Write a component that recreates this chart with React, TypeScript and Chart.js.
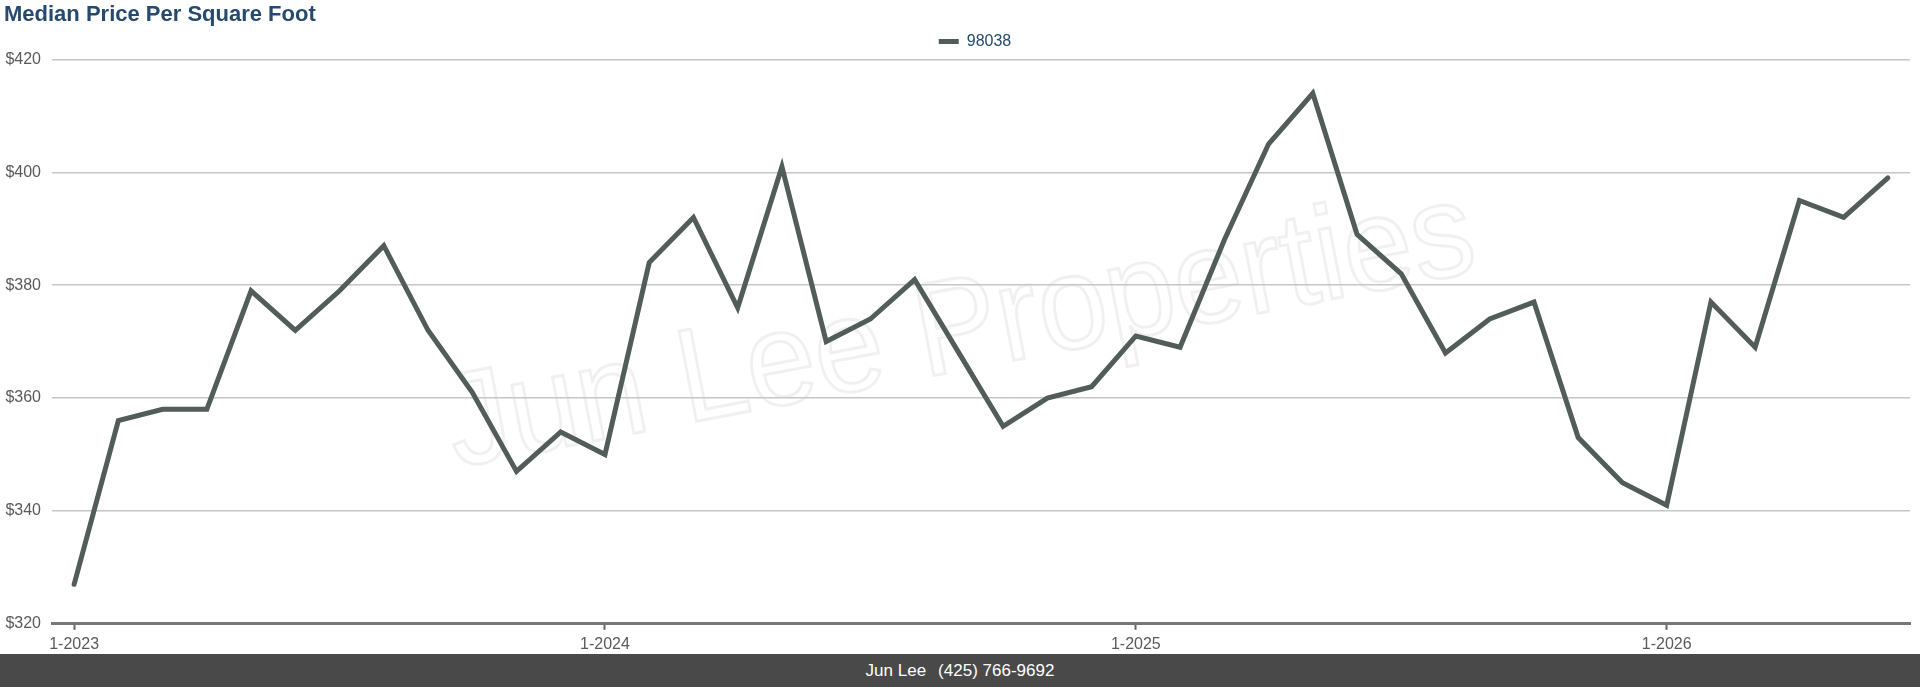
import React, { useEffect, useRef } from 'react';
import { Chart, registerables } from 'chart.js';

Chart.register(...registerables);

const chartTitle = 'Median Price Per Square Foot';
const seriesLabel = '98038';
const footerName = 'Jun Lee';
const footerPhone = '(425) 766-9692';
const watermarkText = 'Jun Lee Properties';

const months = [
  '1-2023', '2-2023', '3-2023', '4-2023', '5-2023', '6-2023', '7-2023', '8-2023', '9-2023', '10-2023', '11-2023', '12-2023',
  '1-2024', '2-2024', '3-2024', '4-2024', '5-2024', '6-2024', '7-2024', '8-2024', '9-2024', '10-2024', '11-2024', '12-2024',
  '1-2025', '2-2025', '3-2025', '4-2025', '5-2025', '6-2025', '7-2025', '8-2025', '9-2025', '10-2025', '11-2025', '12-2025',
  '1-2026', '2-2026', '3-2026', '4-2026', '5-2026', '6-2026',
];

const prices = [
  327, 356, 358, 358, 379, 372, 379, 387, 372, 361, 347, 354,
  350, 384, 392, 376, 401, 370, 374, 381, 368, 355, 360, 362,
  371, 369, 388, 405, 414, 389, 382, 368, 374, 377, 353, 345,
  341, 377, 369, 395, 392, 399,
];

const xTickLabels = ['1-2023', '1-2024', '1-2025', '1-2026'];
const yMin = 320;
const yMax = 420;
const yStep = 20;

const FONT = '"Liberation Sans", Arial, Helvetica, sans-serif';
const LINE_COLOR = '#525c59';
const TITLE_COLOR = '#254a6e';
const TICK_COLOR = '#5a5a5a';

const watermarkPlugin = {
  id: 'watermark',
  beforeDraw(chart: any) {
    const { ctx } = chart;
    ctx.save();
    ctx.translate(961, 333);
    ctx.rotate(-0.19);
    ctx.scale(1.23, 1.32);
    ctx.font = `101px ${FONT}`;
    ctx.textAlign = 'center';
    ctx.textBaseline = 'middle';
    ctx.strokeStyle = '#f0f0f0';
    ctx.lineWidth = 2.2;
    ctx.strokeText(watermarkText, 0, 0);
    ctx.restore();
  },
};

const legendShiftPlugin = {
  id: 'legendShift',
  afterLayout(chart: any) {
    const lg = chart.legend;
    if (lg) {
      lg.left -= 6;
      lg.right -= 6;
    }
  },
};

export default function App() {
  const canvasRef = useRef<HTMLCanvasElement | null>(null);

  useEffect(() => {
    document.body.style.margin = '0';
    const canvas = canvasRef.current;
    if (!canvas) return;
    const chart = new Chart(canvas, {
      type: 'line',
      data: {
        labels: months,
        datasets: [
          {
            label: seriesLabel,
            data: prices,
            borderColor: LINE_COLOR,
            backgroundColor: LINE_COLOR,
            borderWidth: 5,
            pointRadius: 0,
            pointHoverRadius: 0,
            tension: 0,
            fill: false,
            borderCapStyle: 'round',
            borderJoinStyle: 'miter',
          },
        ],
      },
      options: {
        responsive: false,
        animation: false,
        devicePixelRatio: 1,
        layout: { autoPadding: false, padding: { left: 4, right: 10, top: 0, bottom: -2 } },
        plugins: {
          tooltip: { enabled: false },
          title: {
            display: true,
            text: chartTitle,
            align: 'start',
            color: TITLE_COLOR,
            font: { family: FONT, size: 22, weight: 'bold' },
            padding: { top: 2, bottom: 0 },
          },
          legend: {
            display: true,
            position: 'top',
            align: 'center',
            fullSize: false,
            labels: {
              font: { family: FONT, size: 16 },
              color: TITLE_COLOR,
              boxWidth: 20,
              boxHeight: 5,
              padding: 5,
              generateLabels: (c: any) =>
                c.data.datasets.map((ds: any, i: number) => ({
                  text: ds.label,
                  fillStyle: LINE_COLOR,
                  strokeStyle: LINE_COLOR,
                  lineWidth: 0,
                  hidden: false,
                  datasetIndex: i,
                  fontColor: TITLE_COLOR,
                })),
            },
          },
        },
        scales: {
          x: {
            type: 'category',
            offset: true,
            afterFit: (scale: any) => {
              scale.paddingLeft = 0;
              scale.paddingRight = 0;
              scale.height -= 3;
            },
            grid: {
              display: true,
              drawOnChartArea: false,
              drawTicks: true,
              tickLength: 6,
              tickWidth: 2,
              tickColor: (ctx: any) =>
                xTickLabels.includes(months[ctx.index]) ? '#666666' : 'rgba(0,0,0,0)',
            },
            border: { display: true, color: '#777777', width: 3 },
            ticks: {
              autoSkip: false,
              maxRotation: 0,
              minRotation: 0,
              padding: 5,
              color: TICK_COLOR,
              font: { family: FONT, size: 16 },
              callback: (_v: any, idx: number) =>
                xTickLabels.includes(months[idx]) ? months[idx] : '',
            },
          },
          y: {
            min: yMin,
            max: yMax,
            afterFit: (scale: any) => {
              scale.width = 48;
            },
            border: { display: false },
            grid: {
              color: '#c6c6c6',
              lineWidth: 1.5,
              drawTicks: false,
              tickLength: 0,
            },
            ticks: {
              stepSize: yStep,
              padding: 11,
              color: TICK_COLOR,
              font: { family: FONT, size: 16 },
              callback: (v: any) => '$' + v,
            },
          },
        },
      },
      plugins: [watermarkPlugin, legendShiftPlugin],
    } as any);
    return () => chart.destroy();
  }, []);

  return (
    <div style={{ width: 1920, height: 687, background: '#ffffff', position: 'relative' }}>
      <div style={{ width: 1920, height: 654 }}>
        <canvas ref={canvasRef} width={1920} height={654} style={{ display: 'block' }} />
      </div>
      <div
        style={{
          height: 33,
          background: '#494949',
          color: '#ffffff',
          fontFamily: FONT,
          fontSize: 17,
          display: 'flex',
          alignItems: 'center',
          justifyContent: 'center',
          whiteSpace: 'pre',
        }}
      >
        <span>{footerName}</span>
        <span style={{ marginLeft: 12 }}>{footerPhone}</span>
      </div>
    </div>
  );
}
